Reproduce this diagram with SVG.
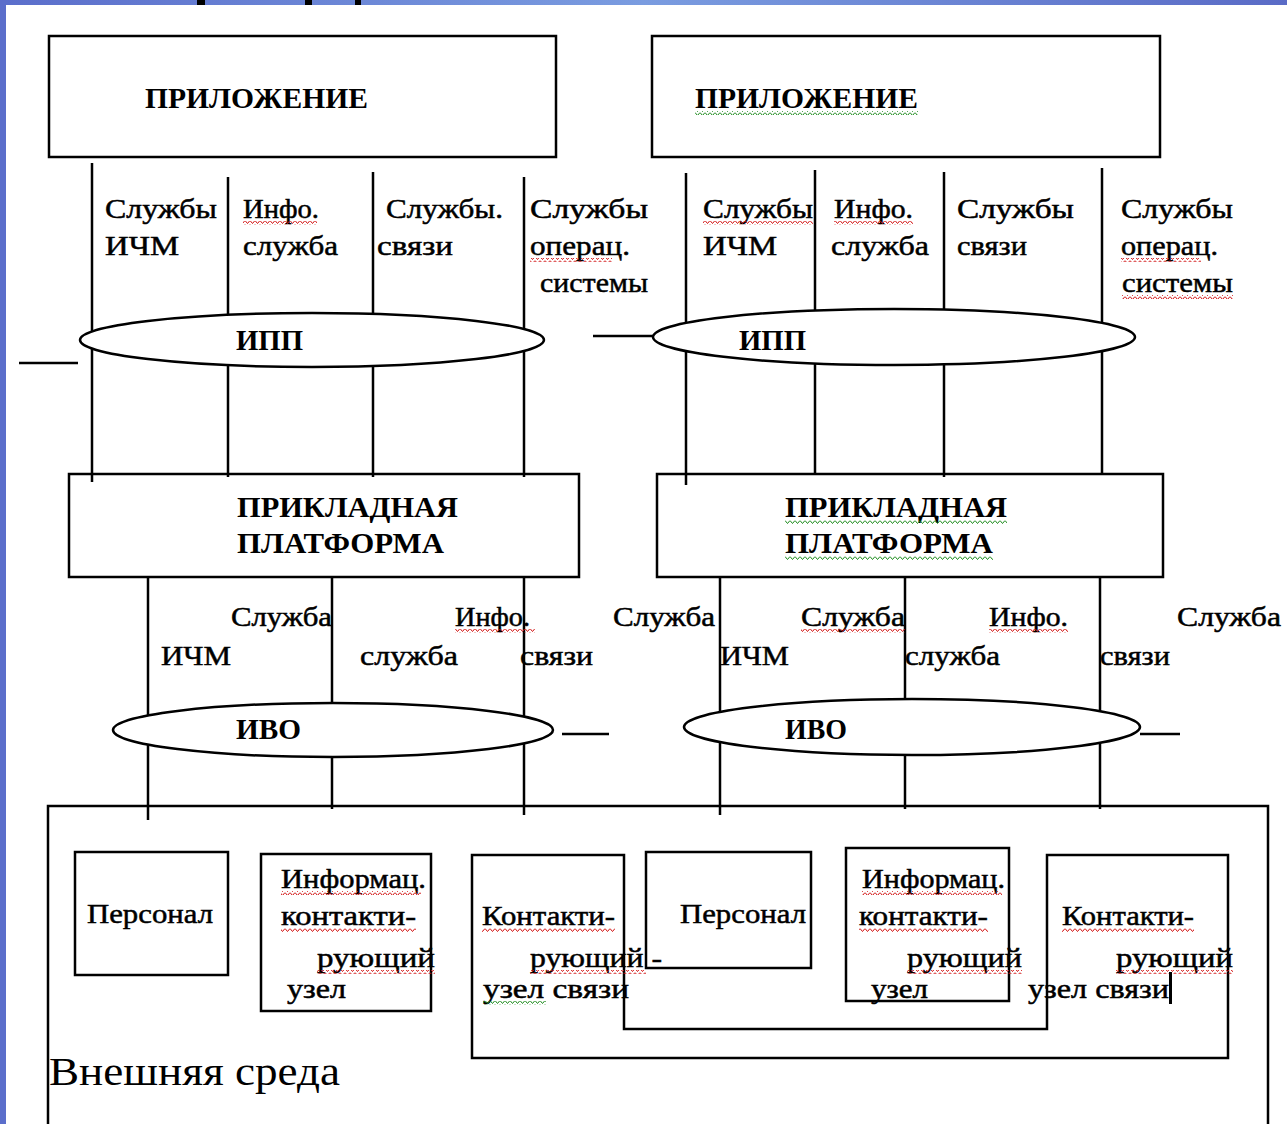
<svg xmlns="http://www.w3.org/2000/svg" width="1287" height="1124" viewBox="0 0 1287 1124">
<style>
.box{fill:#fff;stroke:#000;stroke-width:2.5}
.ell{fill:#fff;stroke:#000;stroke-width:2.5}
.ln{stroke:#000;stroke-width:2.5;fill:none}
.t{font-family:"Liberation Serif","Times New Roman",serif;font-size:28px;fill:#000;stroke:#000;stroke-width:0.5}
.tb{font-family:"Liberation Serif","Times New Roman",serif;font-size:30px;font-weight:bold;fill:#000}
.big{font-family:"Liberation Serif","Times New Roman",serif;font-size:40px;fill:#000}
.wr{fill:url(#wavyR)}
.wg{fill:url(#wavyG)}
</style>
<defs>
<linearGradient id="topbar" x1="0" y1="0" x2="1" y2="0">
<stop offset="0" stop-color="#5b6ecb"/>
<stop offset="0.5" stop-color="#7a9ce0"/>
<stop offset="1" stop-color="#5a6bc6"/>
</linearGradient>
<pattern id="wavyR" width="5" height="4" patternUnits="userSpaceOnUse">
<path d="M0 0.5 L2.5 3.5 L5 0.5" stroke="#d01010" stroke-width="1" fill="none"/>
</pattern>
<pattern id="wavyG" width="5" height="4" patternUnits="userSpaceOnUse">
<path d="M0 0.5 L2.5 3.5 L5 0.5" stroke="#1a8a1a" stroke-width="1" fill="none"/>
</pattern>
</defs>
<rect x="0" y="0" width="1287" height="1124" fill="#fff"/>
<g id="frame">
<rect x="0" y="0" width="1287" height="5" fill="url(#topbar)"/>
<rect x="0" y="0" width="6" height="1124" fill="#5b6ecb"/>
<rect x="197" y="0" width="8" height="5" fill="#000"/>
<rect x="305" y="0" width="7" height="5" fill="#000"/>
<rect x="355" y="0" width="6" height="5" fill="#000"/>
</g>
<g id="environment">
<rect class="box" x="48" y="806" width="1220" height="330"/>
<text class="big" x="49" y="1085" textLength="291" lengthAdjust="spacingAndGlyphs">Внешняя среда</text>
</g>
<g id="app1">
<rect class="box" x="49" y="36" width="507" height="121"/>
<text class="tb" x="145" y="108" textLength="223" lengthAdjust="spacingAndGlyphs">ПРИЛОЖЕНИЕ</text>
</g>
<g id="app2">
<rect class="box" x="652" y="36" width="508" height="121"/>
<text class="tb" x="695" y="108" textLength="223" lengthAdjust="spacingAndGlyphs">ПРИЛОЖЕНИЕ</text>
<rect class="wg" x="695" y="111" width="223" height="4"/>
</g>
<g id="platform1">
<rect class="box" x="69" y="474" width="510" height="103"/>
<text class="tb" x="237" y="517" textLength="221" lengthAdjust="spacingAndGlyphs">ПРИКЛАДНАЯ</text>
<text class="tb" x="237" y="553" textLength="207" lengthAdjust="spacingAndGlyphs">ПЛАТФОРМА</text>
</g>
<g id="platform2">
<rect class="box" x="657" y="474" width="506" height="103"/>
<text class="tb" x="785" y="517" textLength="222" lengthAdjust="spacingAndGlyphs">ПРИКЛАДНАЯ</text>
<text class="tb" x="785" y="553" textLength="208" lengthAdjust="spacingAndGlyphs">ПЛАТФОРМА</text>
<rect class="wg" x="785" y="520" width="222" height="4"/>
<rect class="wg" x="785" y="556" width="208" height="4"/>
</g>
<g id="connectors">
<line class="ln" x1="92" y1="163" x2="92" y2="482"/>
<line class="ln" x1="228" y1="177" x2="228" y2="477"/>
<line class="ln" x1="373" y1="172" x2="373" y2="477"/>
<line class="ln" x1="524" y1="177" x2="524" y2="477"/>
<line class="ln" x1="686" y1="173" x2="686" y2="485"/>
<line class="ln" x1="815" y1="170" x2="815" y2="475"/>
<line class="ln" x1="944" y1="172" x2="944" y2="477"/>
<line class="ln" x1="1102" y1="168" x2="1102" y2="475"/>
<line class="ln" x1="19" y1="363" x2="78" y2="363"/>
<line class="ln" x1="593" y1="336" x2="653" y2="336"/>
<line class="ln" x1="148" y1="577" x2="148" y2="820"/>
<line class="ln" x1="332" y1="577" x2="332" y2="809"/>
<line class="ln" x1="524" y1="577" x2="524" y2="815"/>
<line class="ln" x1="720" y1="577" x2="720" y2="815"/>
<line class="ln" x1="905" y1="577" x2="905" y2="809"/>
<line class="ln" x1="1100" y1="577" x2="1100" y2="809"/>
<line class="ln" x1="562" y1="734" x2="609" y2="734"/>
<line class="ln" x1="1140" y1="734" x2="1180" y2="734"/>
<text class="t" x="105" y="218" textLength="112" lengthAdjust="spacingAndGlyphs">Службы</text>
<text class="t" x="105" y="255" textLength="74" lengthAdjust="spacingAndGlyphs">ИЧМ</text>
<text class="t" x="243" y="218" textLength="76" lengthAdjust="spacingAndGlyphs">Инфо.</text>
<text class="t" x="243" y="255" textLength="95" lengthAdjust="spacingAndGlyphs">служба</text>
<text class="t" x="386" y="218" textLength="117" lengthAdjust="spacingAndGlyphs">Службы.</text>
<text class="t" x="377" y="255" textLength="76" lengthAdjust="spacingAndGlyphs">связи</text>
<text class="t" x="530" y="218" textLength="118" lengthAdjust="spacingAndGlyphs">Службы</text>
<text class="t" x="530" y="255" textLength="100" lengthAdjust="spacingAndGlyphs">операц.</text>
<text class="t" x="540" y="292" textLength="108" lengthAdjust="spacingAndGlyphs">системы</text>
<rect class="wr" x="243" y="221" width="74" height="4"/>
<rect class="wr" x="530" y="258" width="82" height="4"/>
<text class="t" x="703" y="218" textLength="110" lengthAdjust="spacingAndGlyphs">Службы</text>
<text class="t" x="703" y="255" textLength="74" lengthAdjust="spacingAndGlyphs">ИЧМ</text>
<text class="t" x="834" y="218" textLength="79" lengthAdjust="spacingAndGlyphs">Инфо.</text>
<text class="t" x="831" y="255" textLength="98" lengthAdjust="spacingAndGlyphs">служба</text>
<text class="t" x="957" y="218" textLength="117" lengthAdjust="spacingAndGlyphs">Службы</text>
<text class="t" x="957" y="255" textLength="70" lengthAdjust="spacingAndGlyphs">связи</text>
<text class="t" x="1121" y="218" textLength="112" lengthAdjust="spacingAndGlyphs">Службы</text>
<text class="t" x="1121" y="255" textLength="97" lengthAdjust="spacingAndGlyphs">операц.</text>
<text class="t" x="1122" y="292" textLength="111" lengthAdjust="spacingAndGlyphs">системы</text>
<rect class="wr" x="703" y="221" width="110" height="4"/>
<rect class="wr" x="834" y="221" width="79" height="4"/>
<rect class="wr" x="1121" y="258" width="80" height="4"/>
<rect class="wr" x="1122" y="295" width="111" height="4"/>
<text class="t" x="231" y="626" textLength="101" lengthAdjust="spacingAndGlyphs">Служба</text>
<text class="t" x="161" y="665" textLength="70" lengthAdjust="spacingAndGlyphs">ИЧМ</text>
<text class="t" x="455" y="626" textLength="75" lengthAdjust="spacingAndGlyphs">Инфо.</text>
<text class="t" x="360" y="665" textLength="98" lengthAdjust="spacingAndGlyphs">служба</text>
<text class="t" x="613" y="626" textLength="102" lengthAdjust="spacingAndGlyphs">Служба</text>
<text class="t" x="520" y="665" textLength="73" lengthAdjust="spacingAndGlyphs">связи</text>
<rect class="wr" x="455" y="629" width="80" height="4"/>
<text class="t" x="801" y="626" textLength="104" lengthAdjust="spacingAndGlyphs">Служба</text>
<text class="t" x="720" y="665" textLength="69" lengthAdjust="spacingAndGlyphs">ИЧМ</text>
<text class="t" x="989" y="626" textLength="79" lengthAdjust="spacingAndGlyphs">Инфо.</text>
<text class="t" x="905" y="665" textLength="95" lengthAdjust="spacingAndGlyphs">служба</text>
<text class="t" x="1177" y="626" textLength="104" lengthAdjust="spacingAndGlyphs">Служба</text>
<text class="t" x="1100" y="665" textLength="70" lengthAdjust="spacingAndGlyphs">связи</text>
<rect class="wr" x="801" y="629" width="104" height="4"/>
<rect class="wr" x="989" y="629" width="79" height="4"/>
</g>
<g id="ipp1">
<ellipse class="ell" cx="312" cy="340" rx="232" ry="27"/>
<text class="tb" x="236" y="350" textLength="67" lengthAdjust="spacingAndGlyphs">ИПП</text>
</g>
<g id="ipp2">
<ellipse class="ell" cx="894" cy="337" rx="241" ry="28"/>
<text class="tb" x="739" y="350" textLength="67" lengthAdjust="spacingAndGlyphs">ИПП</text>
</g>
<g id="ivo1">
<ellipse class="ell" cx="333" cy="730" rx="220" ry="27"/>
<text class="tb" x="236" y="739" textLength="65" lengthAdjust="spacingAndGlyphs">ИВО</text>
</g>
<g id="ivo2">
<ellipse class="ell" cx="912" cy="727" rx="228" ry="28"/>
<text class="tb" x="785" y="739" textLength="62" lengthAdjust="spacingAndGlyphs">ИВО</text>
</g>
<g id="personnel1">
<rect class="box" x="75" y="852" width="153" height="123"/>
<text class="t" x="87" y="923" textLength="126" lengthAdjust="spacingAndGlyphs">Персонал</text>
</g>
<g id="info-node1">
<rect class="box" x="261" y="854" width="170" height="157"/>
<text class="t" x="281" y="888" textLength="145" lengthAdjust="spacingAndGlyphs">Информац.</text>
<text class="t" x="281" y="925" textLength="135" lengthAdjust="spacingAndGlyphs">контакти-</text>
<text class="t" x="317" y="967" textLength="118" lengthAdjust="spacingAndGlyphs">рующий</text>
<text class="t" x="287" y="998" textLength="59" lengthAdjust="spacingAndGlyphs">узел</text>
<rect class="wr" x="281" y="891" width="140" height="4"/>
<rect class="wr" x="281" y="928" width="135" height="4"/>
<rect class="wr" x="317" y="970" width="118" height="4"/>
</g>
<g id="personnel2">
<rect class="box" x="646" y="852" width="165" height="116"/>
<text class="t" x="680" y="923" textLength="126" lengthAdjust="spacingAndGlyphs">Персонал</text>
</g>
<g id="info-node2">
<rect class="box" x="846" y="848" width="163" height="153"/>
<text class="t" x="862" y="888" textLength="143" lengthAdjust="spacingAndGlyphs">Информац.</text>
<text class="t" x="859" y="925" textLength="129" lengthAdjust="spacingAndGlyphs">контакти-</text>
<text class="t" x="907" y="967" textLength="115" lengthAdjust="spacingAndGlyphs">рующий</text>
<text class="t" x="871" y="998" textLength="57" lengthAdjust="spacingAndGlyphs">узел</text>
<rect class="wr" x="862" y="891" width="140" height="4"/>
<rect class="wr" x="859" y="928" width="129" height="4"/>
<rect class="wr" x="907" y="970" width="115" height="4"/>
</g>
<g id="comm-node">
<path class="ln" d="M624 855 L472 855 L472 1058 L1228 1058 L1228 855 L1047 855 L1047 1029 L624 1029 Z"/>
<text class="t" x="482" y="925" textLength="133" lengthAdjust="spacingAndGlyphs">Контакти-</text>
<text class="t" x="530" y="967" textLength="132" lengthAdjust="spacingAndGlyphs">рующий -</text>
<text class="t" x="483" y="998" textLength="146" lengthAdjust="spacingAndGlyphs">узел связи</text>
<rect class="wr" x="482" y="928" width="133" height="4"/>
<rect class="wr" x="530" y="970" width="116" height="4"/>
<rect class="wg" x="483" y="1001" width="63" height="4"/>
<text class="t" x="1062" y="925" textLength="132" lengthAdjust="spacingAndGlyphs">Контакти-</text>
<text class="t" x="1116" y="967" textLength="117" lengthAdjust="spacingAndGlyphs">рующий</text>
<text class="t" x="1028" y="998" textLength="141" lengthAdjust="spacingAndGlyphs">узел связи</text>
<rect class="wr" x="1062" y="928" width="132" height="4"/>
<rect class="wr" x="1116" y="970" width="117" height="4"/>
<rect x="1169" y="972" width="3" height="32" fill="#000"/>
</g>
</svg>
